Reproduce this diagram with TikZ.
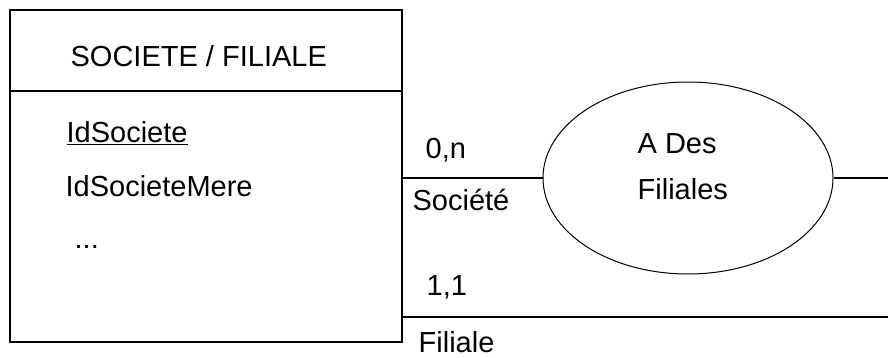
\documentclass[tikz,border=0pt]{standalone}
\usepackage{fontspec}
\setmainfont{Liberation Sans}
\usetikzlibrary{%
  shapes.geometric,% wg. ellipse
  positioning,%
  calc
}

\begin{document}
\begin{tikzpicture}
[x=1pt, y=-1pt, font=\fontsize{29}{46}\selectfont, line width=1.3pt,
entity/.style={rectangle, draw, inner sep=0pt, minimum width=392pt, minimum height=332pt},
assoc/.style={ellipse, draw, line width=1pt, inner sep=0pt, minimum width=290pt, minimum height=192pt},
txt/.style={inner sep=0pt, anchor=base west}]

\useasboundingbox (0,0) rectangle (888,358);

% entity box and its header
\node[entity] (societe) at (206,176) {};
\coordinate (hdr) at (0,91);
\draw (societe.west |- hdr) -- (societe.east |- hdr);
\node[txt] (title) at (70,66.5) {SOCIETE / FILIALE};

\node[txt] (idsoc) at (66,142.5) {\underline{IdSociete}};
\node[txt] (idmere) at (65,196.5) {IdSocieteMere};
\node[txt] (etc) at (74,248) {...};

% association (base = last line)
\node[assoc] (afil) at (688,178) {};
\node[txt, align=left] (afillbl) at (637,199) {A Des\\Filiales};

\coordinate (sortie) at (888,178);
\coordinate (filend) at (888,317);

\draw (societe.east |- afil.west) -- (afil.west);
\draw (afil.east) -- (sortie);
\draw (societe.east |- filend) -- (filend);

% cardinalities and roles
\node[txt] (card1) at (425,159) {0,n};
\node[txt] (role1) at (412,210) {Société};
\node[txt] (card2) at (426,295) {1,1};
\node[txt] (role2) at (418,352) {Filiale};
\end{tikzpicture}
\end{document}
